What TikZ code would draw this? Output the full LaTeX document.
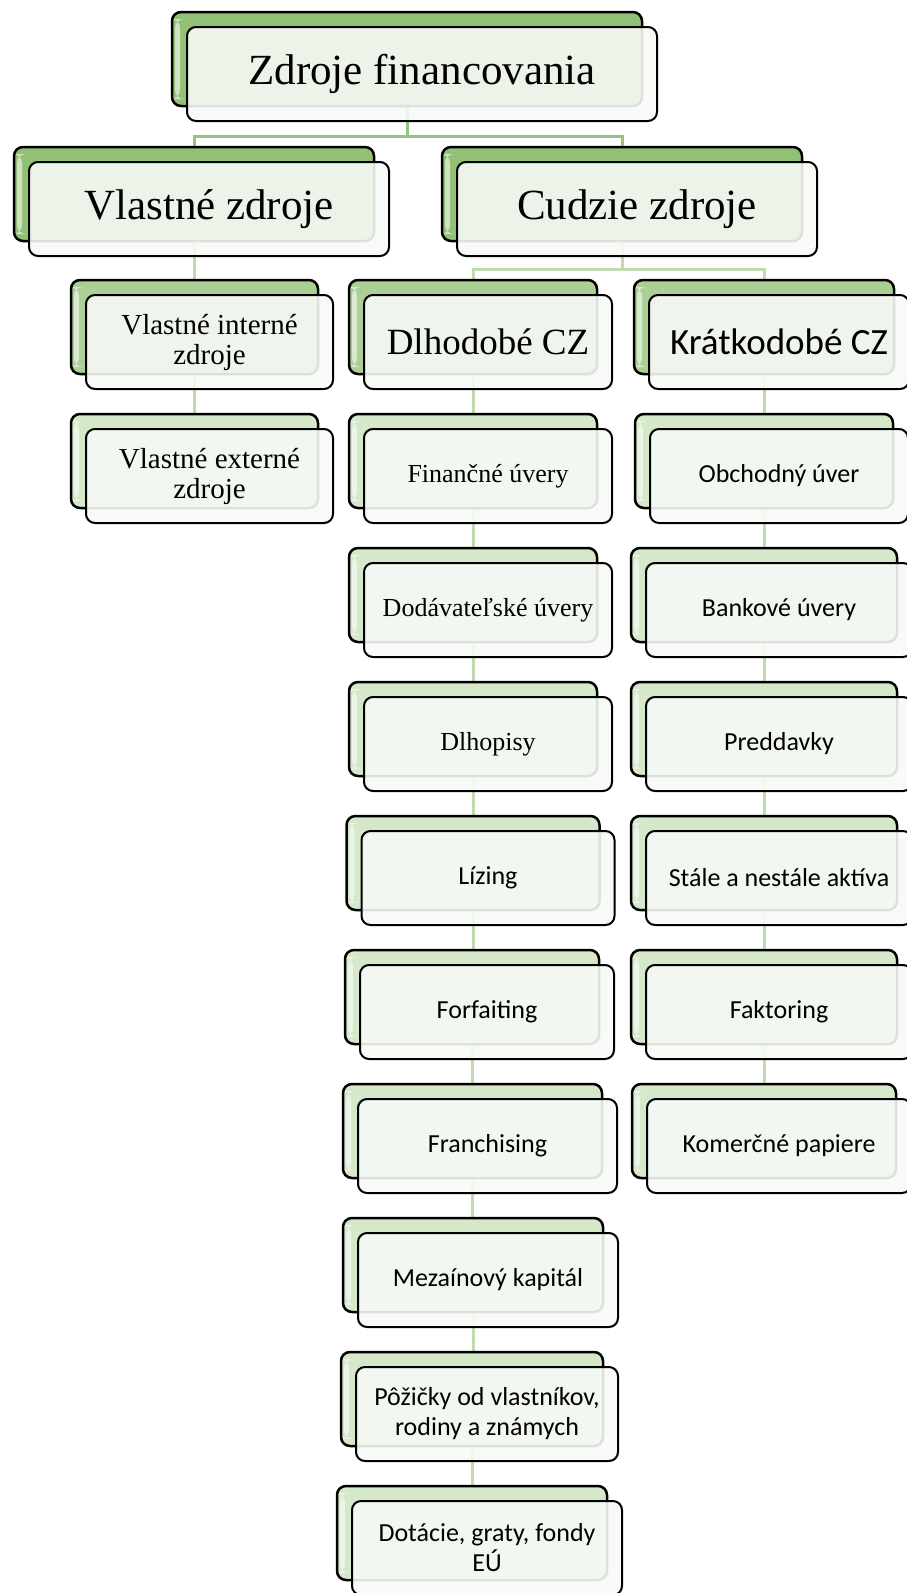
\documentclass[tikz,border=0pt]{standalone}
\usepackage{fontspec}
\setmainfont{Liberation Serif}
\newfontfamily\calib{Carlito}
\usetikzlibrary{calc}
\usetikzlibrary{backgrounds}

\definecolor{zelenA}{RGB}{146,193,118}
\definecolor{zelenB}{RGB}{172,207,150}
\definecolor{zelenC}{RGB}{213,232,202}
\definecolor{ciaraA}{RGB}{150,196,124}
\definecolor{ciaraB}{RGB}{192,219,176}
\definecolor{predok}{RGB}{247,249,246}

\tikzset{
  zadny/.style={draw=black, line width=2.5pt, rounded corners=9pt, fill=#1, minimum height=94pt, inner sep=0pt,
    path picture={\fill[white,opacity=0.55] ([xshift=3pt,yshift=-7pt]path picture bounding box.north west) rectangle ([xshift=8pt,yshift=7pt]path picture bounding box.south west);}},
  predny/.style={draw=black, line width=2pt, rounded corners=9pt, fill=predok, fill opacity=0.9, text opacity=1, minimum height=94pt, inner sep=2pt, align=center},
  spojA/.style={ciaraA, line width=3pt},
  spojB/.style={ciaraB, line width=3pt},
  f1/.style={font=\fontsize{43pt}{47pt}\selectfont},
  f2/.style={font=\fontsize{37pt}{40pt}\selectfont},
  f2s/.style={font=\calib\fontsize{37pt}{40pt}\selectfont},
  f3/.style={font=\fontsize{29pt}{30pt}\selectfont},
  f4/.style={font=\fontsize{26pt}{30pt}\selectfont},
  f4s/.style={font=\calib\fontsize{26pt}{30pt}\selectfont},
}

\begin{document}
\begin{tikzpicture}[x=1pt,y=-1pt]
\useasboundingbox (0,0) rectangle (907,1593);

% level 1
\node[zadny=zelenA, minimum width=470pt] (zf) at (407,59) {};
\node[predny, minimum width=470pt, f1] (zft) at (422,74) {Zdroje financovania};

% level 2
\node[zadny=zelenA, minimum width=360pt] (vz) at (194,194) {};
\node[predny, minimum width=360pt, f1] (vzt) at (209,209) {Vlastné zdroje};
\node[zadny=zelenA, minimum width=360pt] (cz) at (622,194) {};
\node[predny, minimum width=360pt, f1] (czt) at (637,209) {Cudzie zdroje};

% level 3
\node[zadny=zelenB, minimum width=247pt] (vi) at (194.5,327) {};
\node[predny, minimum width=247pt, f3] (vit) at (209.5,342) {Vlastné interné\\zdroje};
\node[zadny=zelenB, minimum width=248pt] (dcz) at (473,327) {};
\node[predny, minimum width=248pt, f2] (dczt) at (488,342) {Dlhodobé CZ};
\node[zadny=zelenB, minimum width=260pt] (kcz) at (764,327) {};
\node[predny, minimum width=260pt, f2s] (kczt) at (779,342) {Krátkodobé CZ};

% vlastne zdroje
\node[zadny=zelenC, minimum width=247pt] (ve) at (194.5,461) {};
\node[predny, minimum width=247pt, f3] (vet) at (209.5,476) {Vlastné externé\\zdroje};

% dlhodobe CZ
\node[zadny=zelenC, minimum width=248pt] (d1) at (473,461) {};
\node[predny, minimum width=248pt, f4] (d1t) at (488,476) {Finančné úvery};
\node[zadny=zelenC, minimum width=248pt] (d2) at (473,595) {};
\node[predny, minimum width=248pt, f4] (d2t) at (488,610) {Dodávateľské úvery};
\node[zadny=zelenC, minimum width=248pt] (d3) at (473,729) {};
\node[predny, minimum width=248pt, f4] (d3t) at (488,744) {Dlhopisy};
\node[zadny=zelenC, minimum width=253pt] (d4) at (473,863) {};
\node[predny, minimum width=253pt, f4s] (d4t) at (488,878) {Lízing};
\node[zadny=zelenC, minimum width=254pt] (d5) at (472,997) {};
\node[predny, minimum width=254pt, f4s] (d5t) at (487,1012) {Forfaiting};
\node[zadny=zelenC, minimum width=259pt] (d6) at (472.5,1131) {};
\node[predny, minimum width=259pt, f4s] (d6t) at (487.5,1146) {Franchising};
\node[zadny=zelenC, minimum width=260pt] (d7) at (473,1265) {};
\node[predny, minimum width=260pt, f4s] (d7t) at (488,1280) {Mezaínový kapitál};
\node[zadny=zelenC, minimum width=262pt] (d8) at (472,1399) {};
\node[predny, minimum width=262pt, f4s] (d8t) at (487,1414) {Pôžičky od vlastníkov,\\rodiny a známych};
\node[zadny=zelenC, minimum width=270pt] (d9) at (472,1533) {};
\node[predny, minimum width=270pt, f4s] (d9t) at (487,1548) {Dotácie, graty, fondy\\EÚ};

% kratkodobe CZ
\node[zadny=zelenC, minimum width=258pt] (k1) at (764,461) {};
\node[predny, minimum width=258pt, f4s] (k1t) at (779,476) {Obchodný úver};
\node[zadny=zelenC, minimum width=266pt] (k2) at (764,595) {};
\node[predny, minimum width=266pt, f4s] (k2t) at (779,610) {Bankové úvery};
\node[zadny=zelenC, minimum width=266pt] (k3) at (764,729) {};
\node[predny, minimum width=266pt, f4s] (k3t) at (779,744) {Preddavky};
\node[zadny=zelenC, minimum width=266pt] (k4) at (764,863) {};
\node[predny, minimum width=266pt, f4s] (k4t) at (779,878) {Stále a nestále aktíva};
\node[zadny=zelenC, minimum width=266pt] (k5) at (764,997) {};
\node[predny, minimum width=266pt, f4s] (k5t) at (779,1012) {Faktoring};
\node[zadny=zelenC, minimum width=264pt] (k6) at (764,1131) {};
\node[predny, minimum width=264pt, f4s] (k6t) at (779,1146) {Komerčné papiere};

\begin{scope}[on background layer]
\draw[spojA] (zf.south) -- ++(0,29) -| (vz.north); % to vlastne
\draw[spojA] (zf.south) -- ++(0,29) -| (cz.north); % to cudzie
\draw[spojB] (vz.south) -- (vz.south |- vi.north);
\draw[spojB] (cz.south) -- ++(0,27) -| (dcz.north);
\draw[spojB] (cz.south) -- ++(0,27) -| (kcz.north);
\draw[spojB] (vi.south) -- (vi.south |- ve.north);
\draw[spojB] (dcz.south) -- (dcz.south |- d1.north);
\draw[spojB] (d1.south) -- (d1.south |- d2.north);
\draw[spojB] (d2.south) -- (d2.south |- d3.north);
\draw[spojB] (d3.south) -- (d3.south |- d4.north);
\draw[spojB] (d4.south) -- (d4.south |- d5.north);
\draw[spojB] (d5.south) -- (d5.south |- d6.north);
\draw[spojB] (d6.south) -- (d6.south |- d7.north);
\draw[spojB] (d7.south) -- (d7.south |- d8.north);
\draw[spojB] (d8.south) -- (d8.south |- d9.north);
\draw[spojB] (kcz.south) -- (kcz.south |- k1.north);
\draw[spojB] (k1.south) -- (k1.south |- k2.north);
\draw[spojB] (k2.south) -- (k2.south |- k3.north);
\draw[spojB] (k3.south) -- (k3.south |- k4.north);
\draw[spojB] (k4.south) -- (k4.south |- k5.north);
\draw[spojB] (k5.south) -- (k5.south |- k6.north);
\end{scope}

\end{tikzpicture}
\end{document}
